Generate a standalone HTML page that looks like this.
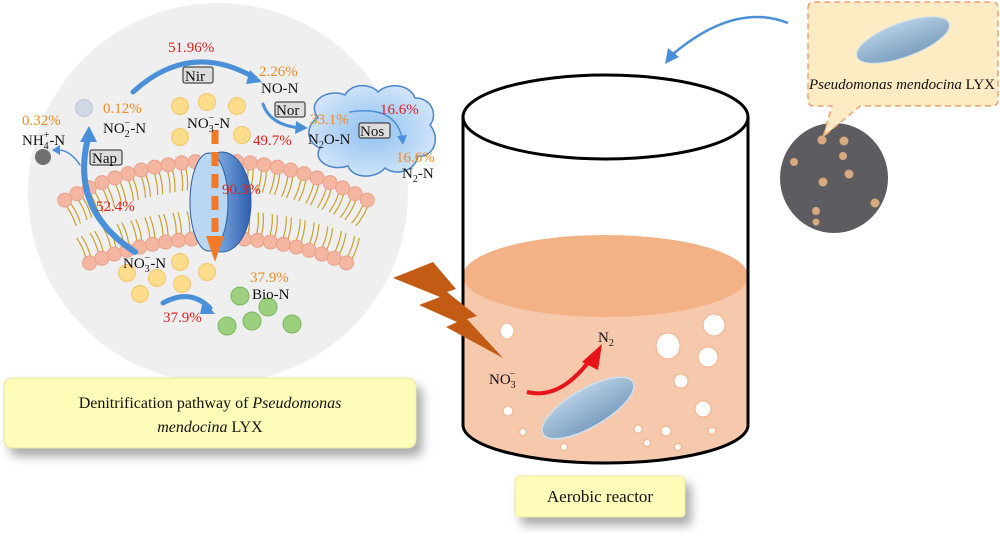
<!DOCTYPE html>
<html><head><meta charset="utf-8"><style>
html,body{margin:0;padding:0;background:#fff;width:1000px;height:544px;overflow:hidden}
svg{display:block}
text{font-family:"Liberation Serif",serif}
</style></head><body>
<svg id="s" width="1000" height="544" viewBox="0 0 1000 544" xmlns="http://www.w3.org/2000/svg">
<defs>
<radialGradient id="cl" cx="50%" cy="50%" r="60%"><stop offset="0" stop-color="#8ec0f0"/><stop offset="1" stop-color="#dbe9fa"/></radialGradient>
<linearGradient id="pr" x1="0" x2="1"><stop offset="0" stop-color="#b8d6f0"/><stop offset="0.5" stop-color="#6f9fd8"/><stop offset="1" stop-color="#2f5faf"/></linearGradient>
<linearGradient id="bac" x1="0" y1="0" x2="0" y2="1"><stop offset="0" stop-color="#b3cde2"/><stop offset="1" stop-color="#7d9fbf"/></linearGradient>
<filter id="sh" x="-10%" y="-10%" width="130%" height="150%"><feDropShadow dx="6" dy="8" stdDeviation="5" flood-color="#888" flood-opacity="0.7"/></filter>
</defs>
<!-- gray cell -->
<circle cx="218" cy="193" r="190" fill="#efefef"/>
<g id="mem"></g>
<!-- protein -->
<ellipse cx="222" cy="202" rx="29" ry="50" fill="url(#pr)" stroke="#2e5aa0" stroke-width="1"/>
<ellipse cx="209" cy="202" rx="19" ry="49" fill="#b9d7f2" stroke="#2e5aa0" stroke-width="1"/>
<line x1="215" y1="130" x2="215" y2="240" stroke="#f07a2a" stroke-width="7" stroke-dasharray="14,8"/>
<path d="M206,236 L224,236 L215,262 Z" fill="#f07a2a"/>
<!-- cloud -->
<path d="M318,118 C305,100 330,88 345,95 C352,82 372,84 378,92 C388,82 410,84 415,98 C432,98 438,115 430,125 C442,140 432,158 418,156 C415,172 395,176 385,168 C375,180 352,178 348,166 C330,172 312,160 320,148 C305,142 306,124 318,118 Z" fill="url(#cl)" stroke="#4a86c8" stroke-width="1.5"/>
<!-- yellow circles -->
<g fill="#fddc8c" stroke="#f5c56a" stroke-width="1">
<circle cx="180" cy="106" r="8.5"/><circle cx="207" cy="102" r="8.5"/><circle cx="237" cy="106" r="8.5"/><circle cx="180" cy="137" r="8.5"/><circle cx="242" cy="135" r="8.5"/>
<circle cx="180" cy="262" r="8.5"/><circle cx="207" cy="272" r="8.5"/><circle cx="127" cy="273" r="8.5"/><circle cx="157" cy="278" r="8.5"/><circle cx="182" cy="284" r="8.5"/><circle cx="140" cy="294" r="8.5"/>
</g>
<g fill="#9ccf7e" stroke="#7ab85a" stroke-width="1">
<circle cx="240" cy="296" r="9"/><circle cx="268" cy="307" r="9"/><circle cx="252" cy="321" r="9"/><circle cx="292" cy="324" r="9"/><circle cx="227" cy="326" r="9"/>
</g>
<circle cx="84" cy="108" r="8.5" fill="#d0d8e4" stroke="#bcc6d4"/>
<circle cx="43" cy="157" r="8" fill="#707070"/>
<!-- arrows -->
<g fill="none" stroke="#4a90d9" stroke-linecap="round">
<path d="M133,92 Q190,40 255,78" stroke-width="5"/>
<path d="M263,104 Q270,125 300,128" stroke-width="3"/>
<path d="M135,252 Q70,210 88,138" stroke-width="6"/>
<path d="M80,165 Q70,150 58,150" stroke-width="1.5"/>
<path d="M163,303 Q190,288 210,308" stroke-width="5"/>
<path d="M350,112 Q395,105 402,138" stroke-width="1.5"/>
</g>
<path d="M250,70 L262,82 L246,84 Z" fill="#4a90d9"/>
<path d="M296,121 L308,128 L295,134 Z" fill="#4a90d9"/>
<path d="M80,142 L89,126 L97,142 Z" fill="#4a90d9"/>
<path d="M60,145 L52,150 L60,155 Z" fill="#4a90d9"/>
<path d="M203,300 L215,314 L200,314 Z" fill="#4a90d9"/>
<path d="M397,136 L403,145 L407,135 Z" fill="#4a90d9"/>
<!-- labels -->
<g font-size="15">
<text x="168" y="52" fill="#e0201e">51.96%</text>
<rect x="183" y="67" width="30" height="16" rx="2" fill="#ddd" stroke="#222"/><text x="185" y="81" fill="#111">Nir</text>
<text x="259" y="76" fill="#f08a24">2.26%</text>
<text x="261" y="93" fill="#111">NO-N</text>
<rect x="275" y="102" width="30" height="15" rx="2" fill="#ddd" stroke="#222"/><text x="276" y="115" fill="#111">Nor</text>
<text x="103" y="113" fill="#f08a24">0.12%</text>
<text x="103" y="133" fill="#111">NO<tspan font-size="10" dy="4">2</tspan><tspan font-size="10" dx="-5" dy="-11">−</tspan><tspan dy="7">-N</tspan></text>
<text x="22" y="125" fill="#f08a24">0.32%</text>
<text x="22" y="145" fill="#111">NH<tspan font-size="10" dy="4">4</tspan><tspan font-size="10" dx="-5" dy="-11">+</tspan><tspan dy="7">-N</tspan></text>
<rect x="90" y="150" width="32" height="15" rx="2" fill="#ddd" stroke="#222"/><text x="92" y="163" fill="#111">Nap</text>
<text x="187" y="128" fill="#111">NO<tspan font-size="10" dy="4">3</tspan><tspan font-size="10" dx="-5" dy="-11">−</tspan><tspan dy="7">-N</tspan></text>
<text x="253" y="145" fill="#e0201e">49.7%</text>
<text x="310" y="124" fill="#f08a24">33.1%</text>
<text x="308" y="144" fill="#111">N<tspan font-size="10" dy="4">2</tspan><tspan dy="-4">O-N</tspan></text>
<rect x="359" y="123" width="31" height="15" rx="2" fill="#ddd" stroke="#222"/><text x="360" y="136" fill="#111">Nos</text>
<text x="380" y="114" fill="#e0201e">16.6%</text>
<text x="396" y="162" fill="#f08a24">16.6%</text>
<text x="402" y="178" fill="#111">N<tspan font-size="10" dy="4">2</tspan><tspan dy="-4">-N</tspan></text>
<text x="222" y="194" fill="#e0201e">90.3%</text>
<text x="96" y="211" fill="#e0201e">52.4%</text>
<text x="123" y="268" fill="#111">NO<tspan font-size="10" dy="4">3</tspan><tspan font-size="10" dx="-5" dy="-11">−</tspan><tspan dy="7">-N</tspan></text>
<text x="250" y="282" fill="#f08a24">37.9%</text>
<text x="252" y="299" fill="#111">Bio-N</text>
<text x="163" y="322" fill="#e0201e">37.9%</text>
</g>
<!-- left yellow box -->
<rect x="4" y="378" width="412" height="70" rx="8" fill="#fdfcb8" stroke="#e8e7a0" filter="url(#sh)"/>
<text x="210" y="408" font-size="16" text-anchor="middle" fill="#111">Denitrification pathway of <tspan font-style="italic">Pseudomonas</tspan></text>
<text x="210" y="432" font-size="16" text-anchor="middle" fill="#111"><tspan font-style="italic">mendocina</tspan> LYX</text>
<!-- beaker -->
<path d="M463,117 L463,425 A142.5,38 0 0 0 748,425 L748,117" fill="#fff"/>
<path d="M463,276 L463,425 A142.5,38 0 0 0 748,425 L748,276 Z" fill="#f6c8ac"/>
<ellipse cx="605.5" cy="276" rx="142.5" ry="41" fill="#f2b286"/>
<path d="M463,117 L463,425 A142.5,38 0 0 0 748,425 L748,117" fill="none" stroke="#000" stroke-width="3"/>
<ellipse cx="605.5" cy="117" rx="142.5" ry="42" fill="#fff" stroke="#000" stroke-width="3"/>
<g fill="#fff" stroke="#f2b088" stroke-width="1">
<ellipse cx="507" cy="331" rx="7" ry="8"/><circle cx="714" cy="325" r="11"/><ellipse cx="668" cy="346" rx="12" ry="13"/><circle cx="708" cy="357" r="10"/><circle cx="681" cy="381" r="7"/><circle cx="703" cy="409" r="8"/><circle cx="508" cy="411" r="5"/><circle cx="523" cy="432" r="3.5"/><circle cx="564" cy="447" r="3.5"/><circle cx="638" cy="429" r="4"/><circle cx="666" cy="431" r="5"/><circle cx="647" cy="443" r="3.5"/><circle cx="678" cy="447" r="3.5"/><circle cx="712" cy="431" r="3.5"/>
</g>
<ellipse cx="588" cy="408" rx="52" ry="19" transform="rotate(-30 588 408)" fill="url(#bac)" stroke="#cfe0ee" stroke-width="1.5"/>
<path d="M527,392 Q560,400 590,360" fill="none" stroke="#e8141a" stroke-width="4"/>
<path d="M582,362 L602,344 L598,370 Z" fill="#e8141a"/>
<text x="489" y="384" font-size="15" fill="#111">NO<tspan font-size="10" dy="4">3</tspan><tspan font-size="10" dx="-6" dy="-11">−</tspan></text>
<text x="598" y="342" font-size="15" fill="#111">N<tspan font-size="10" dy="4">2</tspan></text>
<!-- lightning -->
<path d="M393,278 L433,262 L456,289 L447,292 L477,316 L467,319 L503,358 L446,327 L457,322 L419,305 L440,297 Z" fill="#c35b14"/>
<!-- reactor label -->
<rect x="515" y="476" width="170" height="41" rx="4" fill="#fdfcb8" stroke="#e8e7a0" filter="url(#sh)"/>
<text x="600" y="502" font-size="17" text-anchor="middle" fill="#111">Aerobic reactor</text>
<!-- callout -->
<path d="M788,23 Q735,2 673,54" fill="none" stroke="#4a90d9" stroke-width="2.5"/>
<path d="M668,48 L665,64 L679,57 Z" fill="#4a90d9"/>
<ellipse cx="834" cy="178" rx="54" ry="55" fill="#5d5c60"/>
<g fill="#d8aa80"><circle cx="822" cy="140" r="4.5"/><circle cx="844" cy="141" r="4.5"/><circle cx="843" cy="156" r="4"/><circle cx="794" cy="162" r="4"/><circle cx="849" cy="174" r="4.5"/><circle cx="823" cy="182" r="4.5"/><circle cx="875" cy="203" r="4.5"/><circle cx="816" cy="211" r="4"/><circle cx="816" cy="222" r="3.5"/></g>
<path d="M808,8 Q808,2 814,2 L992,2 Q998,2 998,8 L998,100 Q998,106 992,106 L860,106 L823,137 L832,106 L814,106 Q808,106 808,100 Z" fill="#fdebc4" stroke="#f0a070" stroke-width="1.5" stroke-dasharray="6,4"/>
<ellipse cx="903" cy="40" rx="49" ry="17" transform="rotate(-20 903 40)" fill="url(#bac)" stroke="#cfe0ee"/>
<text x="902" y="89" font-size="15" text-anchor="middle" fill="#111"><tspan font-style="italic">Pseudomonas mendocina</tspan> LYX</text>
</svg>
<script>
(function(){
var g=document.getElementById('mem'),h='';
function row(cx,cy,R,a0,n,dir){
 for(var i=0;i<n;i++){var a=(-a0+2*a0*i/(n-1))*Math.PI/180;
  var x=cx+R*Math.sin(a),y=cy-R*Math.cos(a);
  var ux=Math.sin(a)*dir,uy=-Math.cos(a)*dir;
  for(var k=-1;k<=1;k+=2){var bx=x+Math.cos(a)*2.5*k,by=y+Math.sin(a)*2.5*k;
   var ex=bx-ux*28,ey=by-uy*28,mx=bx-ux*14+Math.cos(a)*3,my=by-uy*14+Math.sin(a)*3;
   h+='<path d="M'+bx+','+by+' Q'+mx+','+my+' '+ex+','+ey+'" fill="none" stroke="#c9a030" stroke-width="1.2"/>';}
 }
 for(var i=0;i<n;i++){var a=(-a0+2*a0*i/(n-1))*Math.PI/180;
  h+='<circle cx="'+(cx+R*Math.sin(a))+'" cy="'+(cy-R*Math.cos(a))+'" r="7" fill="#f4b6a0" stroke="#eaa08a"/>';}
}
row(216,473,312,29,24,1);
row(218,581,343,22,21,-1);
g.innerHTML=h;
})();
</script>
</body></html>
